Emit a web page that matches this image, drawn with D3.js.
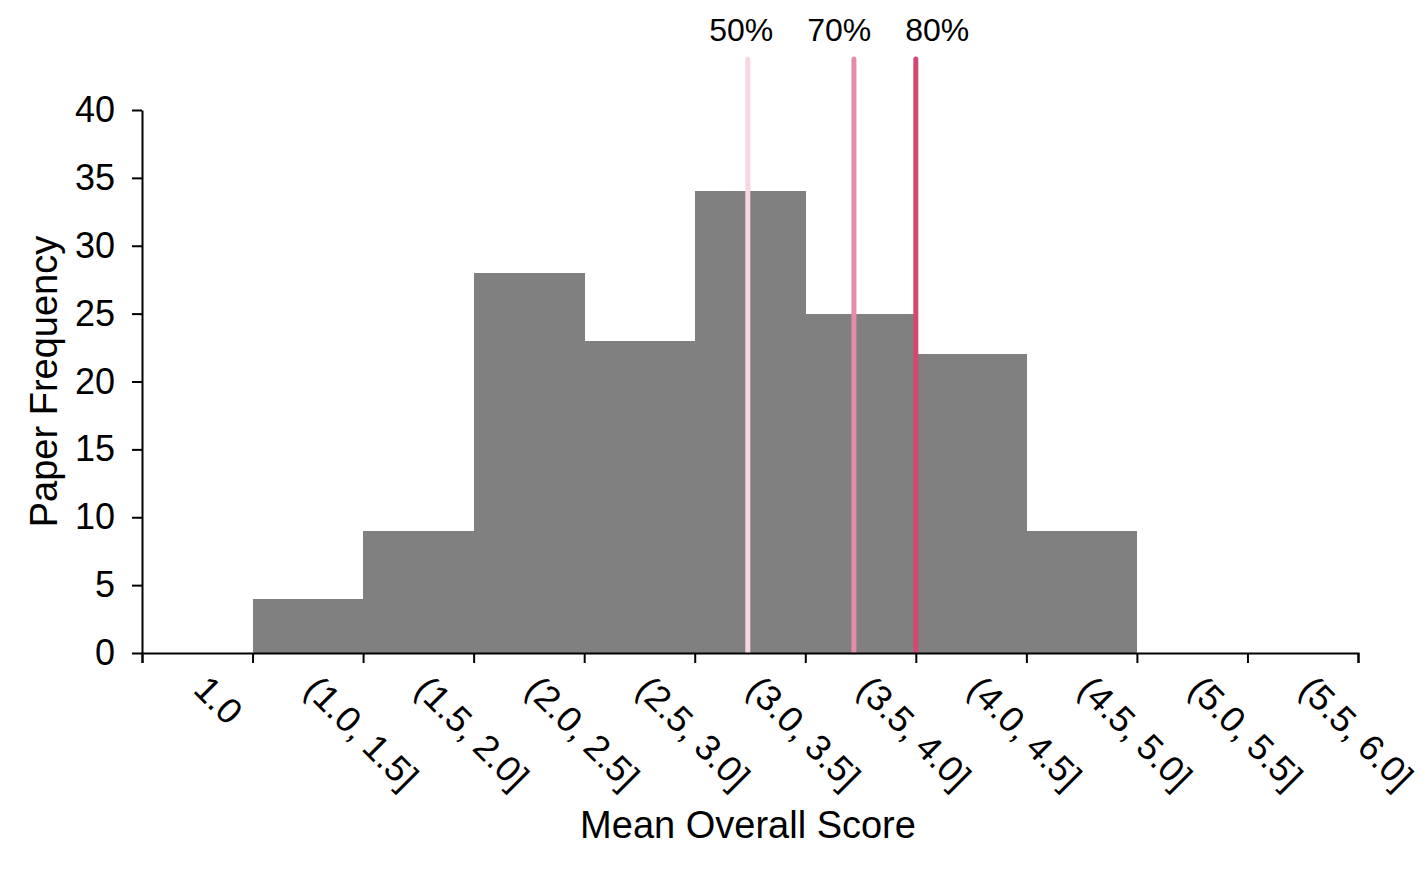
<!DOCTYPE html>
<html>
<head>
<meta charset="utf-8">
<script src="https://cdn.jsdelivr.net/npm/d3@7"></script>
<style>
  html, body { margin: 0; padding: 0; background: #fff; }
  svg { display: block; font-family: "Liberation Sans", Arial, Helvetica, sans-serif; }
</style>
</head>
<body>
<svg id="chart" width="1425" height="872"></svg>
<script>
const categories = ["1.0", "(1.0, 1.5]", "(1.5, 2.0]", "(2.0, 2.5]", "(2.5, 3.0]", "(3.0, 3.5]",
                    "(3.5, 4.0]", "(4.0, 4.5]", "(4.5, 5.0]", "(5.0, 5.5]", "(5.5, 6.0]"];
const frequencies = [0, 4, 9, 28, 23, 34, 25, 22, 9, 0, 0];
const yTicks = [0, 5, 10, 15, 20, 25, 30, 35, 40];
const percentileLabels = ["50%", "70%", "80%"];
const percentileScores = [3.24, 3.72, 4.0];
const percentileColors = ["#f8d6e2", "#e68ca9", "#d24872"];

const svg = d3.select("#chart");
const mLeft = 142, mRight = 1358, mTop = 110, mBottom = 653;

const x = d3.scaleBand().domain(categories).range([mLeft, mRight]).paddingInner(0).paddingOuter(0);
const xScore = d3.scaleLinear().domain([0.5, 6.0]).range([mLeft, mRight]);
const y = d3.scaleLinear().domain([0, 40]).range([mBottom, mTop]);

// bars
svg.append("g").attr("shape-rendering", "crispEdges")
  .selectAll("rect").data(categories).join("rect")
  .attr("x", d => x(d))
  .attr("width", x.bandwidth() + 0.5)
  .attr("y", (d, i) => y(frequencies[i]))
  .attr("height", (d, i) => y(0) - y(frequencies[i]))
  .attr("fill", "#808080");

// percentile lines
const pg = svg.append("g");
pg.selectAll("line").data(percentileScores).join("line")
  .attr("x1", d => xScore(d)).attr("x2", d => xScore(d))
  .attr("y1", 59).attr("y2", mBottom - 1)
  .attr("stroke", (d, i) => percentileColors[i])
  .attr("stroke-width", 5)
  .attr("stroke-linecap", "round");

// labels spread evenly around the mean line position so they don't overlap
const lineXs = percentileScores.map(d => xScore(d));
const labelGap = 98;
const labelCenter = d3.mean(lineXs);
const labelXs = lineXs.map((d, i) => labelCenter + (i - (lineXs.length - 1) / 2) * labelGap);
pg.selectAll("text").data(percentileScores).join("text")
  .attr("x", (d, i) => labelXs[i])
  .attr("y", 41)
  .attr("text-anchor", "middle")
  .attr("font-size", 32)
  .attr("fill", "#000")
  .text((d, i) => percentileLabels[i]);

// x axis
const boundaries = d3.range(categories.length + 1).map(i => 0.5 + 0.5 * i);
const xAxis = d3.axisBottom(xScore).tickValues(boundaries).tickSize(10).tickFormat("");
const gx = svg.append("g").attr("transform", `translate(0,${mBottom})`).call(xAxis);
gx.select(".domain").attr("stroke", "#000").attr("stroke-width", 2);
gx.selectAll(".tick line").attr("stroke", "#000").attr("stroke-width", 2);

// x tick labels (rotated)
svg.append("g").selectAll("text").data(categories).join("text")
  .attr("transform", d => `translate(${x(d) + x.bandwidth() / 2 + 13},${mBottom + 20}) rotate(45)`)
  .attr("text-anchor", "start")
  .attr("dy", "0.72em")
  .attr("font-size", 36)
  .attr("fill", "#000")
  .text(d => d);

// y axis
const yAxis = d3.axisLeft(y).tickValues(yTicks).tickSize(10).tickPadding(17).tickSizeOuter(0);
const gy = svg.append("g").attr("transform", `translate(${mLeft},0)`).call(yAxis);
gy.select(".domain").attr("stroke", "#000").attr("stroke-width", 2);
gy.selectAll(".tick line").attr("stroke", "#000").attr("stroke-width", 2);
gy.selectAll(".tick text").attr("font-size", 36).attr("fill", "#000")
  .attr("font-family", "'Liberation Sans', Arial, Helvetica, sans-serif");

// axis titles
svg.append("text")
  .attr("x", 748)
  .attr("y", 838)
  .attr("text-anchor", "middle")
  .attr("font-size", 38)
  .attr("fill", "#000")
  .text("Mean Overall Score");

svg.append("text")
  .attr("transform", `translate(57,${(mTop + mBottom) / 2}) rotate(-90)`)
  .attr("text-anchor", "middle")
  .attr("font-size", 38)
  .attr("fill", "#000")
  .text("Paper Frequency");
</script>
</body>
</html>
